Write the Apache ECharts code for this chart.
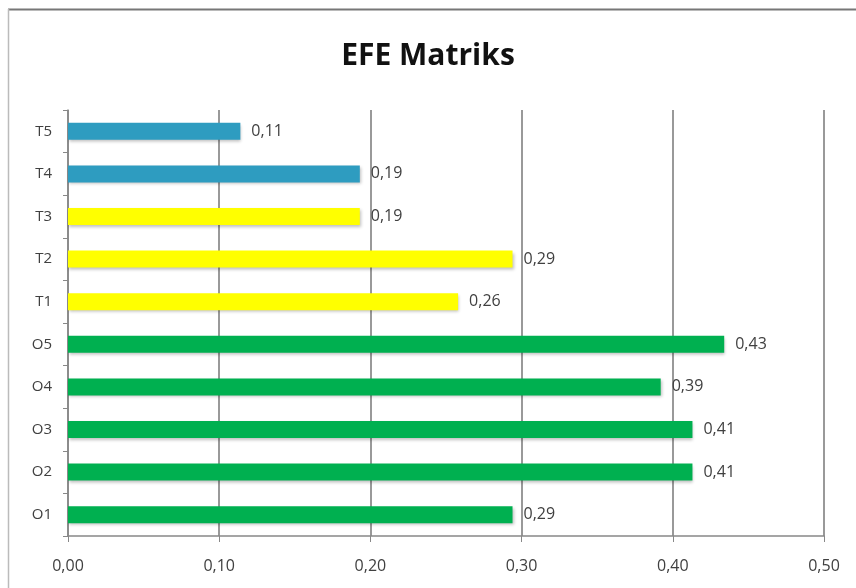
<!DOCTYPE html>
<html><head><meta charset="utf-8">
<script src="https://cdn.jsdelivr.net/npm/echarts@6/dist/echarts.min.js"></script>
<style>html,body{margin:0;padding:0;background:#fff}#c{width:856px;height:588px}</style>
</head><body><div id="c"></div>
<script>
var categories = ['O1','O2','O3','O4','O5','T1','T2','T3','T4','T5'];
var values = [0.294, 0.413, 0.413, 0.392, 0.434, 0.258, 0.294, 0.193, 0.193, 0.114];
var colors = ['#00B050','#00B050','#00B050','#00B050','#00B050','#FFFF00','#FFFF00','#FFFF00','#2E9CC0','#2E9CC0'];
var xTicks = [0, 0.1, 0.2, 0.3, 0.4, 0.5];

var fontF = '"Open Sans", "Liberation Sans", sans-serif';
var chart = echarts.init(document.getElementById('c'));
chart.setOption({
  animation: false,
  title: {text: 'EFE Matriks', left: 'center', top: 36,
    textStyle: {fontFamily: fontF, fontSize: 30, fontWeight: 'bold', color: '#111'}},
  grid: {left: 68, right: 32, top: 110, bottom: 52, containLabel: false},
  xAxis: {type: 'value', min: 0, max: 0.5, interval: 0.1,
    axisLine: {show: true, lineStyle: {color: '#888', width: 1.5}},
    axisTick: {show: true, length: 6, lineStyle: {color: '#888'}},
    splitLine: {show: true, lineStyle: {color: '#777', width: 1.5}},
    axisLabel: {fontFamily: fontF, fontSize: 16, color: '#404040', margin: 22,
      formatter: function(v){ var t = xTicks.filter(function(x){return Math.abs(x-v)<1e-9;}); return (t.length?t[0]:v).toFixed(2).replace('.', ','); }}},
  yAxis: {type: 'category', data: categories,
    axisLine: {show: true, lineStyle: {color: '#888', width: 1.5}},
    axisTick: {show: true, length: 5, lineStyle: {color: '#888'}},
    axisLabel: {fontFamily: fontF, fontSize: 15, color: '#404040', margin: 16}},
  series: [{type: 'bar', barWidth: 17,
    data: values.map(function(v,i){ return {value: v, itemStyle: {color: colors[i], shadowColor: 'rgba(0,0,0,0.25)', shadowBlur: 3, shadowOffsetX: 1, shadowOffsetY: 2}}; }),
    label: {show: true, position: 'right', distance: 11, fontFamily: fontF, fontSize: 16, color: '#404040',
      formatter: function(p){ return p.value.toFixed(2).replace('.', ','); }}}],
  graphic: [
    {type: 'line', shape: {x1: 8, y1: 9.5, x2: 856, y2: 9.5}, style: {stroke: '#777', lineWidth: 2}},
    {type: 'line', shape: {x1: 8.5, y1: 9, x2: 8.5, y2: 588}, style: {stroke: '#bbb', lineWidth: 1.5}}
  ]
});
</script></body></html>
